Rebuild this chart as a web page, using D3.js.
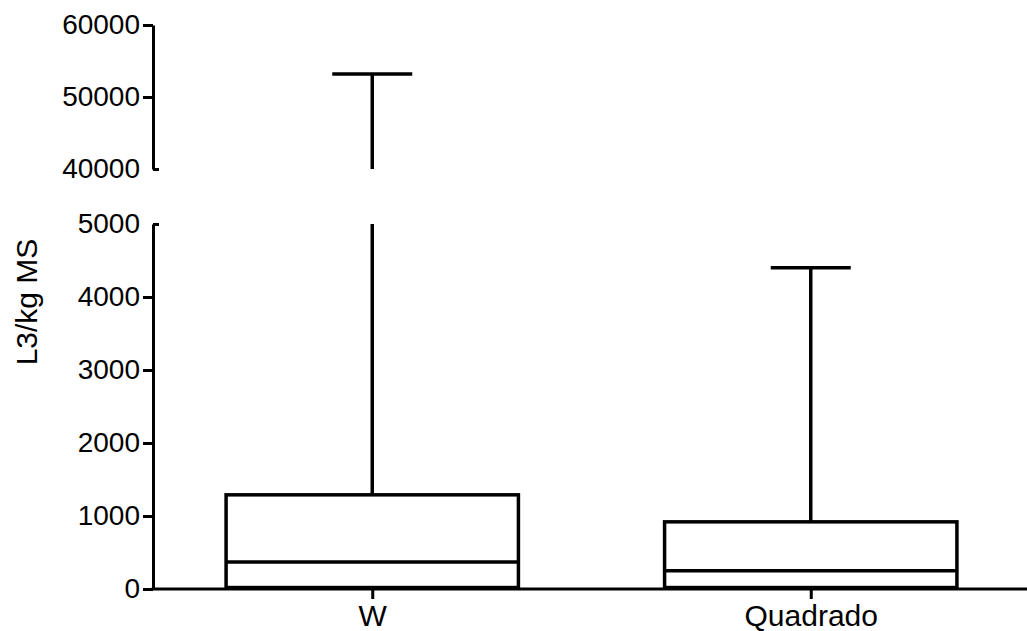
<!DOCTYPE html>
<html><head><meta charset="utf-8">
<script src="https://cdn.jsdelivr.net/npm/d3@7"></script>
<style>
html,body{margin:0;padding:0;background:#fff;}
svg{display:block;}
text{font-family:"Liberation Sans",Arial,sans-serif;fill:#000;}
</style></head>
<body>
<svg id="chart" width="1027" height="631"></svg>
<script>
// Data
const categories = ["W", "Quadrado"];
const whiskerMin = [0, 0];
const q1Values = [20, 20];
const medianValues = [370, 250];
const q3Values = [1290, 920];
const whiskerMax = [53200, 4400];
const lowTicks = [0, 1000, 2000, 3000, 4000, 5000];
const highTicks = [40000, 50000, 60000];
const yLabel = "L3/kg MS";

const svg = d3.select("#chart");
const axisX = 153;
const lowDomain = [0, 5000], highDomain = [40000, 60000];
const yLow = d3.scaleLinear().domain(lowDomain).range([589, 224]);
const yHigh = d3.scaleLinear().domain(highDomain).range([169, 25]);
const x = d3.scalePoint().domain(categories).range([153, 1030]).padding(0.5);
const boxW = x.step() * 2 / 3;
const capW = 80;
const SW = 3.5;

// Y axes
function styleAxis(g){
  g.select(".domain").attr("stroke","#000").attr("stroke-width",3);
  g.selectAll(".tick line").attr("stroke","#000").attr("stroke-width",3);
  g.selectAll(".tick text").style("font-size","28px");
}
const gLow = svg.append("g").attr("transform",`translate(${axisX},0)`)
  .call(d3.axisLeft(yLow).tickValues(lowTicks).tickSize(10).tickSizeOuter(0).tickPadding(3).tickFormat(d3.format("d")));
styleAxis(gLow);
gLow.selectAll(".tick").filter(d => d === 5000).select("line").attr("x2", 6);
const gHigh = svg.append("g").attr("transform",`translate(${axisX},0)`)
  .call(d3.axisLeft(yHigh).tickValues(highTicks).tickSize(10).tickSizeOuter(0).tickPadding(3).tickFormat(d3.format("d")));
styleAxis(gHigh);
gHigh.selectAll(".tick").filter(d => d === 40000).select("line").attr("x2", 6);

// X axis
const gx = svg.append("g").attr("transform",`translate(0,${yLow(0)})`)
  .call(d3.axisBottom(x).tickSize(10).tickSizeOuter(0).tickPadding(6));
gx.select(".domain").attr("stroke","#000").attr("stroke-width",3).attr("d",`M${axisX-1.5},0H1030`);
gx.selectAll(".tick line").attr("stroke","#000").attr("stroke-width",3);
gx.selectAll(".tick text").style("font-size","30px");

// Y label
svg.append("text").attr("transform",`translate(37,302) rotate(-90)`)
  .attr("text-anchor","middle").style("font-size","30px").text(yLabel);

// Boxes
const data = categories.map((c,i)=>({c, min:whiskerMin[i], q1:q1Values[i], med:medianValues[i], q3:q3Values[i], max:whiskerMax[i]}));
const g = svg.append("g").attr("stroke","#000").attr("stroke-width",SW).attr("fill","none");
data.forEach(d => {
  const cx = x(d.c);
  const topLow = Math.min(d.max, lowDomain[1]);
  g.append("line").attr("x1",cx).attr("x2",cx).attr("y1",yLow(d.q3)).attr("y2",yLow(topLow));
  if (d.max >= highDomain[0]) {
    g.append("line").attr("x1",cx).attr("x2",cx).attr("y1",yHigh(highDomain[0])).attr("y2",yHigh(d.max));
    g.append("line").attr("x1",cx-capW/2).attr("x2",cx+capW/2).attr("y1",yHigh(d.max)).attr("y2",yHigh(d.max));
  } else {
    g.append("line").attr("x1",cx-capW/2).attr("x2",cx+capW/2).attr("y1",yLow(d.max)).attr("y2",yLow(d.max));
  }
  g.append("line").attr("x1",cx).attr("x2",cx).attr("y1",yLow(d.q1)).attr("y2",yLow(d.min));
  g.append("rect").attr("x",cx-boxW/2).attr("width",boxW)
    .attr("y",yLow(d.q3)).attr("height",yLow(d.q1)-yLow(d.q3)).attr("fill","#fff");
  g.append("line").attr("x1",cx-boxW/2).attr("x2",cx+boxW/2).attr("y1",yLow(d.med)).attr("y2",yLow(d.med));
});
</script>
</body></html>
